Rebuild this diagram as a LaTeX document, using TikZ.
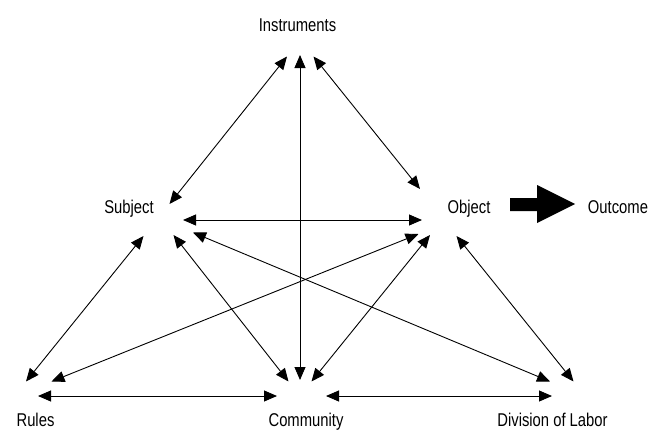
\documentclass[tikz,border=0pt]{standalone}
\usepackage{fontspec}
\setmainfont{Liberation Sans}[FakeStretch=0.8]
\usetikzlibrary{arrows.meta}
\begin{document}
\begin{tikzpicture}[x=1pt,y=-1pt,
  lbl/.style={font=\fontsize{18.5}{20}\selectfont, inner sep=0pt, anchor=base},
  link/.style={line width=0.9pt, {Triangle[length=13pt,width=11pt]}-{Triangle[length=13pt,width=11pt]}}]
\useasboundingbox (0,0) rectangle (662,431);
% labels
\node[lbl] (instr) at (297.5,31) {Instruments};
\node[lbl] (subj) at (129,213) {Subject};
\node[lbl] (obj) at (469,213) {Object};
\node[lbl] (outc) at (618,213) {Outcome};
\node[lbl] (rules) at (35.5,426) {Rules};
\node[lbl] (comm) at (306,426) {Community};
\node[lbl] (div) at (552.5,426) {Division of Labor};
% arrow end points
\coordinate (iS) at (287,56.5);
\coordinate (iC) at (300,55);
\coordinate (iO) at (313.5,56.5);
\coordinate (sI) at (169.5,204);
\coordinate (sO) at (183,220);
\coordinate (sD) at (193,232.5);
\coordinate (sR) at (143.5,236);
\coordinate (sC) at (173.5,235);
\coordinate (oI) at (420,189);
\coordinate (oS) at (422,220);
\coordinate (oR) at (418.5,234);
\coordinate (oC) at (430,235);
\coordinate (oD) at (456.5,236);
\coordinate (rS) at (26,381.5);
\coordinate (rO) at (51.5,381.5);
\coordinate (rC) at (38,396);
\coordinate (cR) at (277,396);
\coordinate (cS) at (288.5,381.5);
\coordinate (cI) at (300,380);
\coordinate (cO) at (311.5,381.5);
\coordinate (cD) at (326,396);
\coordinate (dC) at (552,396);
\coordinate (dS) at (550,381.5);
\coordinate (dO) at (573.5,381.5);
% connectors
\draw[link] (iS) -- (sI);
\draw[link] (iC) -- (cI);
\draw[link] (iO) -- (oI);
\draw[link] (sO) -- (oS);
\draw[link] (sR) -- (rS);
\draw[link] (sC) -- (cS);
\draw[link] (sD) -- (dS);
\draw[link] (oR) -- (rO);
\draw[link] (oC) -- (cO);
\draw[link] (oD) -- (dO);
\draw[link] (rC) -- (cR);
\draw[link] (cD) -- (dC);
% outcome block arrow
\fill[black] (510,198) -- (537,198) -- (537,185) -- (575,204) -- (537,223) -- (537,211) -- (510,211) -- cycle;
\end{tikzpicture}
\end{document}
